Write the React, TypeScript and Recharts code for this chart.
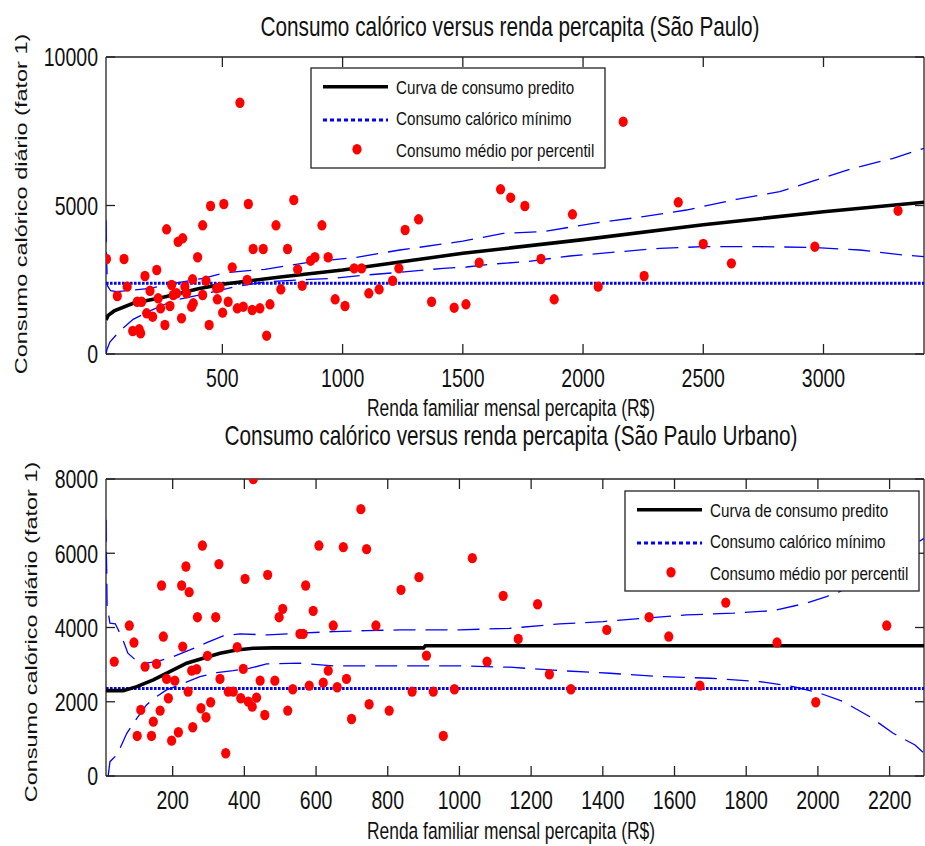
import React from "react";
import { ScatterChart, Scatter, XAxis, YAxis, ReferenceLine } from "recharts";

// São Paulo – consumo médio por percentil
const spIncome = [
  18, 91, 63, 104, 178, 227, 127, 154, 160, 146, 164, 199, 185, 210, 233, 243, 261, 268, 282, 289,
  296, 316, 335, 330, 310, 344, 351, 372, 379, 376, 397, 418, 418, 432, 445, 451, 476, 479, 490, 501,
  506, 524, 541, 562, 573, 587, 603, 608, 624, 628, 656, 670, 684, 698, 723, 743, 771, 797, 813, 832,
  867, 885, 914, 940, 969, 1010, 1048, 1079, 1109, 1152, 1208, 1234, 1260, 1316, 1370, 1464, 1513, 1568, 1657, 1699,
  1758, 1825, 1880, 1956, 2063, 2167, 2254, 2396, 2500, 2617, 2964, 3310,
];
const spKcal = [
  3200, 3199, 1953, 2267, 2626, 2828, 774, 831, 697, 1761, 1761, 2131, 1370, 1256, 1875, 1538, 976, 4198, 1616, 2323,
  1986, 3781, 3895, 1202, 2043, 2267, 2043, 1593, 1707, 2515, 3256, 4333, 1986, 2468, 976, 4983, 2211, 1841, 2245, 1392,
  5051, 1761, 2918, 1538, 8461, 1593, 2492, 5051, 1481, 3535, 1538, 3535, 617, 1673, 4333, 2178, 3535, 5185, 2850, 2300,
  3142, 3256, 4333, 3256, 1841, 1616, 2884, 2884, 2043, 2178, 2468, 2884, 4175, 4535, 1761, 1559, 1673, 3074, 5545, 5263,
  4983, 3199, 1841, 4703, 2267, 7822, 2626, 5107, 3704, 3053, 3613, 4825,
];

// São Paulo – curvas
const spPredX = [16, 25, 50, 129, 250, 400, 500, 750, 1000, 1500, 2000, 2500, 3000, 3418];
const spPredY = [1150, 1300, 1450, 1707, 1900, 2200, 2350, 2600, 2828, 3390, 3850, 4350, 4790, 5110];
const spUpX = [16, 18, 22, 35, 60, 199, 300, 420, 511, 677, 878, 1058, 1238, 1418, 1500, 1668, 1834, 2042, 2250, 2430, 2638, 2818, 2971, 3123, 3290, 3418];
const spUpY = [4500, 3300, 2300, 2130, 2100, 2210, 2380, 2549, 2738, 2852, 3108, 3256, 3502, 3704, 3800, 4063, 4119, 4400, 4624, 4848, 5208, 5465, 5859, 6252, 6589, 6926];
const spLoX = [16, 20, 32, 74, 129, 199, 296, 407, 545, 684, 864, 961, 1100, 1238, 1418, 1516, 1626, 1765, 1945, 2153, 2319, 2500, 2735, 2943, 3151, 3331, 3418];
const spLoY = [0, 150, 400, 780, 1168, 1450, 1800, 1990, 2250, 2435, 2515, 2549, 2660, 2750, 2884, 2930, 3030, 3108, 3300, 3445, 3558, 3613, 3613, 3591, 3502, 3333, 3277];
const spMinX = [16, 3418];
const spMinY = [2380, 2380];
const spXTicks = [500, 1000, 1500, 2000, 2500, 3000];
const spYTicks = [0, 5000, 10000];

// São Paulo Urbano – consumo médio por percentil
const spuIncome = [
  37, 79, 92, 101, 111, 123, 141, 146, 155, 165, 169, 174, 183, 188, 197, 206, 216, 225, 228, 237,
  243, 246, 253, 256, 267, 269, 279, 283, 293, 297, 306, 320, 329, 332, 348, 355, 369, 380, 390, 397,
  402, 411, 422, 425, 434, 444, 457, 465, 485, 497, 507, 521, 535, 555, 564, 571, 581, 592, 608, 620,
  634, 648, 659, 676, 685, 699, 725, 741, 748, 767, 804, 837, 868, 887, 908, 927, 955, 986, 1036, 1077,
  1122, 1164, 1218, 1251, 1311, 1411, 1529, 1584, 1671, 1743, 1886, 1994, 2192,
];
const spuKcal = [
  3081, 4052, 3594, 1079, 1780, 2947, 1079, 1464, 3020, 1761, 5131, 3756, 2615, 2095, 952, 2569, 1178, 5131, 3486, 5642,
  2273, 4952, 2838, 1313, 2876, 4278, 1825, 6207, 1582, 3235, 1987, 4278, 5708, 2615, 612, 2273, 2273, 3470, 2095, 2885,
  5311, 2003, 1868, 8000, 2111, 2569, 1644, 5418, 2569, 4278, 4502, 1761, 2337, 3828, 3828, 5131, 2434, 4448, 6207, 2515,
  2838, 4052, 2391, 6164, 2615, 1536, 7188, 6110, 1932, 4052, 1761, 5014, 2273, 5356, 3243, 2273, 1079, 2337, 5868, 3081,
  4852, 3693, 4627, 2741, 2337, 3935, 4278, 3756, 2434, 4671, 3594, 1987, 4052,
];

// São Paulo Urbano – curvas
const spuPredX = [14, 62, 100, 146, 192, 239, 285, 332, 378, 425, 480, 900, 905, 2296];
const spuPredY = [2300, 2300, 2407, 2588, 2811, 3038, 3172, 3307, 3396, 3440, 3450, 3450, 3510, 3510];
const spuUpX = [14, 15, 16, 17, 25, 40, 45, 60, 75, 109, 155, 202, 248, 295, 341, 388, 465, 555, 648, 741, 834, 1001, 1141, 1280, 1401, 1513, 1634, 1764, 1875, 1968, 2024, 2061, 2120, 2200, 2296];
const spuUpY = [6900, 6000, 5500, 4600, 4115, 4100, 4000, 3700, 3307, 3019, 3081, 3216, 3396, 3593, 3774, 3827, 3800, 3846, 3890, 3917, 3935, 3935, 3980, 4097, 4160, 4250, 4340, 4385, 4456, 4655, 4833, 4968, 5300, 5800, 6400];
const spuLoX = [20, 25, 39, 53, 72, 100, 127, 155, 183, 230, 276, 323, 369, 416, 462, 555, 648, 834, 1001, 1141, 1280, 1420, 1559, 1699, 1838, 1931, 2006, 2071, 2145, 2210, 2271, 2296];
const spuLoY = [0, 386, 521, 746, 1150, 1555, 1914, 2138, 2318, 2498, 2677, 2785, 2838, 2903, 3019, 3038, 2965, 2965, 2965, 2930, 2838, 2768, 2677, 2633, 2542, 2408, 2229, 2003, 1598, 1150, 836, 612];
const spuMinX = [14, 2296];
const spuMinY = [2360, 2360];
const spuXTicks = [200, 400, 600, 800, 1000, 1200, 1400, 1600, 1800, 2000, 2200];
const spuYTicks = [0, 2000, 4000, 6000, 8000];

const legendLabels = ["Curva de consumo predito", "Consumo calórico mínimo", "Consumo médio por percentil"];

const FONT = '"Liberation Sans", Arial, Helvetica, sans-serif';
const STRETCH = 1.35;
const INK = "#111";
const FRAME = "#222";
const BLUE = "#0000ff";
const PLOT_W = 818;
const PLOT_H = 297;

const zip = (xs: number[], ys: number[]) => xs.map((x, i) => ({ x, y: ys[i] }));

// tick label plus inward tick marks on the bottom and top edges of the box
const XTick = (props: any) => {
  const { x, y, payload } = props;
  return (
    <g>
      <line x1={x} x2={x} y1={y} y2={y - 10} stroke={FRAME} strokeWidth={1.3} />
      <line x1={x} x2={x} y1={y - PLOT_H} y2={y - PLOT_H + 10} stroke={FRAME} strokeWidth={1.3} />
      <g transform={`translate(${x},${y + 24})`}>
        <text transform={`scale(1,${STRETCH})`} textAnchor="middle" dy="0.36em" fontSize={19.5} fontFamily={FONT} fill={INK}>
          {payload.value}
        </text>
      </g>
    </g>
  );
};

// tick label plus inward tick marks on the left and right edges of the box
const YTick = (props: any) => {
  const { x, y, payload } = props;
  const edge = x + 8;
  return (
    <g>
      <line x1={edge} x2={edge + 9} y1={y} y2={y} stroke={FRAME} strokeWidth={1.3} />
      <line x1={edge + PLOT_W} x2={edge + PLOT_W - 9} y1={y} y2={y} stroke={FRAME} strokeWidth={1.3} />
      <g transform={`translate(${x},${y})`}>
        <text transform={`scale(1,${STRETCH})`} textAnchor="end" dy="0.36em" fontSize={19.5} fontFamily={FONT} fill={INK}>
          {payload.value}
        </text>
      </g>
    </g>
  );
};

const RedDot = (p: any) => <ellipse cx={p.cx} cy={p.cy} rx={4.6} ry={5.2} fill="#ff0000" />;
const NoShape = () => <g />;

type PanelProps = {
  top: number;
  height: number;
  bottomMargin: number;
  xDomain: [number, number];
  yDomain: [number, number];
  xTicks: number[];
  yTicks: number[];
  income: number[];
  kcal: number[];
  predX: number[];
  predY: number[];
  upX: number[];
  upY: number[];
  loX: number[];
  loY: number[];
  minX: number[];
  minY: number[];
};

function Panel(p: PanelProps) {
  const axisStroke = { stroke: FRAME, strokeWidth: 1.3 };
  return (
    <div style={{ position: "absolute", left: 0, top: p.top }}>
      <ScatterChart width={925} height={p.height} margin={{ top: 57, right: 1, bottom: p.bottomMargin, left: 46 }}>
        <XAxis xAxisId="b" type="number" dataKey="x" domain={p.xDomain} ticks={p.xTicks} allowDataOverflow
          height={30} tickSize={0} tickMargin={0} tickLine={false} axisLine={axisStroke} tick={<XTick />} />
        <YAxis yAxisId="l" type="number" dataKey="y" domain={p.yDomain} ticks={p.yTicks} allowDataOverflow
          width={60} tickSize={0} tickMargin={8} tickLine={false} axisLine={axisStroke} tick={<YTick />} />
        <ReferenceLine xAxisId="b" yAxisId="l" y={p.yDomain[1]} stroke={FRAME} strokeWidth={1.3} />
        <ReferenceLine xAxisId="b" yAxisId="l" x={p.xDomain[1]} stroke={FRAME} strokeWidth={1.3} />

        <Scatter xAxisId="b" yAxisId="l" data={zip(p.upX, p.upY)} shape={NoShape} isAnimationActive={false}
          line={{ stroke: BLUE, strokeWidth: 1.3, strokeDasharray: "22 10" }} />
        <Scatter xAxisId="b" yAxisId="l" data={zip(p.loX, p.loY)} shape={NoShape} isAnimationActive={false}
          line={{ stroke: BLUE, strokeWidth: 1.3, strokeDasharray: "22 10" }} />
        <Scatter xAxisId="b" yAxisId="l" data={zip(p.minX, p.minY)} shape={NoShape} isAnimationActive={false}
          line={{ stroke: BLUE, strokeWidth: 3, strokeDasharray: "2.6 1.4" }} />
        <Scatter xAxisId="b" yAxisId="l" data={zip(p.predX, p.predY)} shape={NoShape} isAnimationActive={false}
          line={{ stroke: "#000", strokeWidth: 3.6 }} />
        <Scatter xAxisId="b" yAxisId="l" data={zip(p.income, p.kcal)} shape={RedDot} isAnimationActive={false} />
      </ScatterChart>
    </div>
  );
}

function LegendBox({ left, top }: { left: number; top: number }) {
  const rows = [18.7, 52, 81.3];
  const base = [26.3, 57.3, 88.7];
  return (
    <g transform={`translate(${left},${top})`}>
      <rect x={0} y={0} width={294} height={100} fill="#fff" stroke={FRAME} strokeWidth={1.3} />
      <line x1={12} x2={77} y1={rows[0]} y2={rows[0]} stroke="#000" strokeWidth={3.6} />
      <line x1={12} x2={77} y1={rows[1]} y2={rows[1]} stroke={BLUE} strokeWidth={3} strokeDasharray="4 3" />
      <ellipse cx={46} cy={rows[2]} rx={4.6} ry={5.2} fill="#ff0000" />
      {legendLabels.map((t, i) => (
        <text key={t} transform={`translate(85,${base[i]}) scale(1,1.22)`} fontSize={15.2} fontFamily={FONT} fill={INK}>
          {t}
        </text>
      ))}
    </g>
  );
}

function Label({ x, y, size, text, rotate }: { x: number; y: number; size: number; text: string; rotate?: boolean }) {
  const tf = rotate
    ? `translate(${x},${y}) rotate(-90) scale(${STRETCH},1)`
    : `translate(${x},${y}) scale(1,${STRETCH})`;
  return (
    <text transform={tf} textAnchor="middle" fontSize={size} fontFamily={FONT} fill={INK}>
      {text}
    </text>
  );
}

export default function App() {
  return (
    <div style={{ position: "absolute", left: 0, top: 0, width: 925, height: 846, background: "#fff" }}>
      <Panel top={0} height={420} bottomMargin={36} xDomain={[16, 3418]} yDomain={[0, 10000]}
        xTicks={spXTicks} yTicks={spYTicks} income={spIncome} kcal={spKcal}
        predX={spPredX} predY={spPredY} upX={spUpX} upY={spUpY} loX={spLoX} loY={spLoY} minX={spMinX} minY={spMinY} />
      <Panel top={422} height={424} bottomMargin={40} xDomain={[14, 2296]} yDomain={[0, 8000]}
        xTicks={spuXTicks} yTicks={spuYTicks} income={spuIncome} kcal={spuKcal}
        predX={spuPredX} predY={spuPredY} upX={spuUpX} upY={spuUpY} loX={spuLoX} loY={spuLoY} minX={spuMinX} minY={spuMinY} />
      <svg width={925} height={846} style={{ position: "absolute", left: 0, top: 0, pointerEvents: "none" }}>
        <Label x={510} y={36} size={20.8} text="Consumo calórico versus renda percapita (São Paulo)" />
        <Label x={511} y={416} size={17.4} text="Renda familiar mensal percapita (R$)" />
        <Label x={27} y={204} size={17.4} text="Consumo calórico diário (fator 1)" rotate />
        <Label x={511} y={445} size={20.8} text="Consumo calórico versus renda percapita (São Paulo Urbano)" />
        <Label x={511} y={839} size={17.4} text="Renda familiar mensal percapita (R$)" />
        <Label x={37} y={632} size={17.4} text="Consumo calórico diário (fator 1)" rotate />
        <LegendBox left={311} top={68} />
        <LegendBox left={625} top={491} />
      </svg>
    </div>
  );
}
